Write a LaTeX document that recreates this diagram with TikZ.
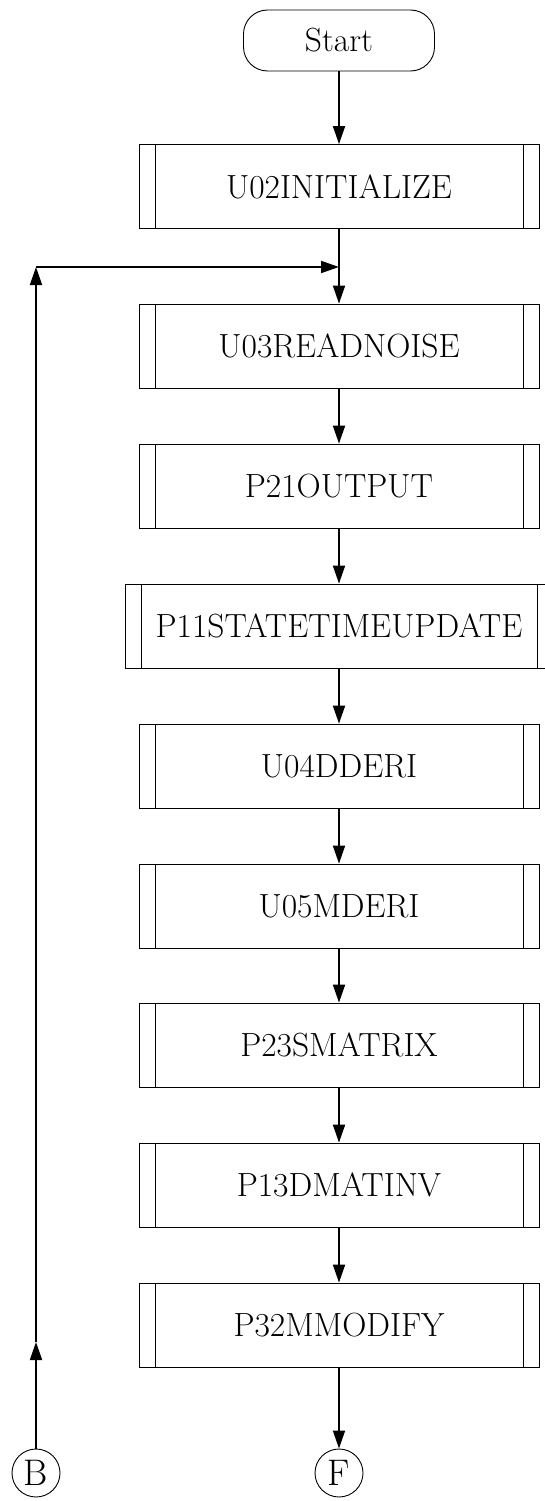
\documentclass[tikz,border=0pt]{standalone}
\usetikzlibrary{arrows.meta}

\tikzset{
  base/.style={font=\fontsize{33.5}{40}\selectfont, inner sep=0pt},
  terminal/.style={base, draw, line width=0.9pt, rounded corners=24pt,
    minimum width=191pt, minimum height=61pt},
  % predefined-process box: outer frame plus two inner side rules
  proc/.style={base, draw, line width=0.8pt, minimum width=400pt, minimum height=84pt,
    path picture={
      \draw[line width=1pt]
        ([xshift=16pt]path picture bounding box.north west) --
        ([xshift=16pt]path picture bounding box.south west);
      \draw[line width=1pt]
        ([xshift=-16pt]path picture bounding box.north east) --
        ([xshift=-16pt]path picture bounding box.south east);
    }},
  conn/.style={base, draw, circle, line width=0.9pt, minimum size=48pt,
    font=\fontsize{37}{44}\selectfont},
  link/.style={line width=1.8pt},
  flow/.style={link, -{Triangle[length=18pt,width=12pt]}},
}

\begin{document}
\begin{tikzpicture}[x=1pt, y=1pt]
  \useasboundingbox (0,0) rectangle (545,-1501);

  \node[terminal] (start) at (339,-40.5) {Start};
  \node[proc] (u02) at (339,-186.5) {U02INITIALIZE};
  \node[proc] (u03) at (339,-346) {U03READNOISE};
  \node[proc] (p21) at (339,-486) {P21OUTPUT};
  \node[proc, minimum width=428pt] (p11) at (339,-626) {P11STATETIMEUPDATE};
  \node[proc] (u04) at (339,-766) {U04DDERI};
  \node[proc] (u05) at (339,-906) {U05MDERI};
  \node[proc] (p23) at (339,-1045) {P23SMATRIX};
  \node[proc] (p13) at (339,-1185) {P13DMATINV};
  \node[proc] (p32) at (339,-1325) {P32MMODIFY};

  \node[conn] (B) at (36,-1473) {B};
  \node[conn] (F) at (339,-1473) {F};

  \coordinate (join) at (339,-267);
  \coordinate (corner) at (36,-267);
  \coordinate (bmid) at (36,-1342);

  % main sequence
  \draw[flow] (start) -- (u02);
  \draw[link] (u02) -- (join);
  \draw[flow] (join) -- (u03);
  \draw[flow] (u03) -- (p21);
  \draw[flow] (p21) -- (p11);
  \draw[flow] (p11) -- (u04);
  \draw[flow] (u04) -- (u05);
  \draw[flow] (u05) -- (p23);
  \draw[flow] (p23) -- (p13);
  \draw[flow] (p13) -- (p32);
  \draw[flow] (p32) -- (F);

  % loop back from connector B
  \draw[flow] (B) -- (bmid);
  \draw[flow] (bmid) -- (corner);
  \draw[flow] (corner) -- (join);
\end{tikzpicture}
\end{document}
